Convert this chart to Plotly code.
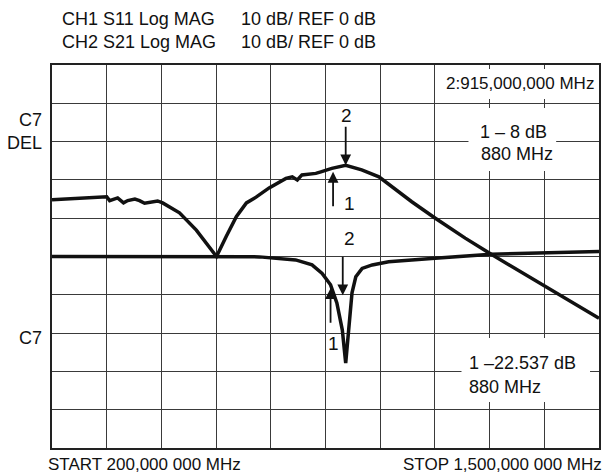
import plotly.graph_objects as go

# ---- data (frequency in MHz, level in dB on a 10 dB/div screen, 0 dB at centre line)
s11_freq = [200, 278, 330, 337, 356, 370, 380, 397, 408, 420, 437, 451, 463, 503, 543, 567, 591,
            614, 638, 662, 685, 716, 747, 756, 771, 783, 794, 827, 839, 865, 898, 936, 977, 1007,
            1055, 1111, 1182, 1245, 1339, 1419, 1500]
s11_db = [14.8, 15.3, 15.6, 14.6, 15.3, 14.0, 14.6, 15.0, 14.6, 13.9, 14.2, 14.5, 14.0, 11.4, 6.9, 3.5, 0.0,
          5.2, 10.4, 14.0, 15.5, 17.9, 20.0, 20.4, 20.8, 20.0, 21.3, 21.7, 22.1, 23.0, 23.8, 22.6, 20.8, 18.2,
          14.3, 10.0, 4.8, 0.5, -5.6, -10.8, -16.1]

s21_freq = [200, 591, 693, 779, 818, 842, 862, 877, 890, 898, 906, 913, 922, 937, 961, 1000, 1102,
            1213, 1244, 1500]
s21_db = [0.0, -0.1, -0.1, -0.9, -2.2, -4.4, -7.4, -12.1, -19.2, -27.8, -18.3, -9.5, -5.3, -3.1, -2.2,
          -1.4, -0.5, 0.4, 0.6, 1.3]

# marker arrows: (freq, dB at tip, label, direction)
upper_markers = [(898, 23.8, "2", "down"), (868, 22.1, "1", "up")]
lower_markers = [(891, -10.1, "2", "down"), (862, -8.3, "1", "up")]

header_left = ["CH1 S11 Log MAG", "CH2 S21 Log MAG"]
header_right = ["10 dB/ REF 0 dB", "10 dB/ REF 0 dB"]
start_label = "START 200,000 000 MHz"
stop_label = "STOP 1,500,000 000 MHz"
marker_freq_label = "2:915,000,000 MHz"
s11_readout = ["1 – 8 dB", "880 MHz"]
s21_readout = ["1 –22.537 dB", "880 MHz"]

FONT = "Liberation Sans, Arial, sans-serif"
FS = 18

fig = go.Figure()
fig.add_trace(go.Scatter(x=s11_freq, y=s11_db, mode="lines",
                         line=dict(color="#111111", width=3.5), hoverinfo="skip"))
fig.add_trace(go.Scatter(x=s21_freq, y=s21_db, mode="lines",
                         line=dict(color="#111111", width=3.5), hoverinfo="skip"))

W, H = 607, 475
L, R, T, B = 52, 6, 65, 27
pw, ph = W - L - R, H - T - B


def px(x):
    return (x - L) / pw


def py(y):
    return (H - B - y) / ph


ann = []


def txt(text, x, y, xanchor="left", size=FS, pad=1):
    ann.append(dict(text=text, x=px(x), y=py(y), xref="paper", yref="paper",
                    xanchor=xanchor, yanchor="middle", showarrow=False, borderpad=pad,
                    font=dict(family=FONT, size=size, color="#111111")))


txt(header_left[0], 60, 19)
txt(header_left[1], 60, 42)
txt(header_right[0], 240, 19)
txt(header_right[1], 240, 42)
txt("C7", 44, 120, "right")
txt("DEL", 44, 143, "right")
txt("C7", 44, 338, "right")
txt(start_label, 47, 464, size=17, pad=0)
txt(stop_label, 605, 464, "right", size=17, pad=0)
txt(marker_freq_label, 598, 83, "right", size=17)
txt(s11_readout[0], 480, 132)
txt(s11_readout[1], 481, 154)
txt(s21_readout[0], 469, 363)
txt(s21_readout[1], 469, 387)

# marker arrows
for markers in (upper_markers, lower_markers):
    for f, v, lab, d in markers:
        ay = -40 if d == "down" else 36
        ann.append(dict(x=f, y=v, xref="x", yref="y", text="", showarrow=True,
                        ax=0, ay=ay, arrowhead=2, arrowsize=1.2, arrowwidth=1.8,
                        arrowcolor="#111111"))

# marker numbers
txt("2", 348, 115, "center", 19)
txt("1", 351, 203, "center", 19)
txt("2", 351, 238, "center", 19)
txt("1", 335, 343, "center", 19)

# white label backgrounds hiding the graticule
boxes = [(438, 69, 599, 99), (470, 108, 558, 171), (463, 338, 592, 402)]
shapes = []
for x0, y0, x1, y1 in boxes:
    shapes.append(dict(type="rect", xref="paper", yref="paper",
                       x0=px(x0), x1=px(x1), y0=py(y1), y1=py(y0),
                       fillcolor="white", line=dict(width=0), layer="above"))

axis_common = dict(showgrid=True, gridcolor="#3a3a3a", gridwidth=1,
                   showline=True, linecolor="#222222", linewidth=1.5, mirror=True,
                   zeroline=False, showticklabels=False, ticks="", fixedrange=True)

fig.update_layout(
    width=W, height=H,
    margin=dict(l=L, r=R, t=T, b=B),
    paper_bgcolor="white", plot_bgcolor="white",
    showlegend=False,
    xaxis=dict(range=[200, 1500], dtick=130, tick0=200, **axis_common),
    yaxis=dict(range=[-50, 50], dtick=10, tick0=-50, **axis_common),
    annotations=ann, shapes=shapes,
)

fig.write_html("out.html")
